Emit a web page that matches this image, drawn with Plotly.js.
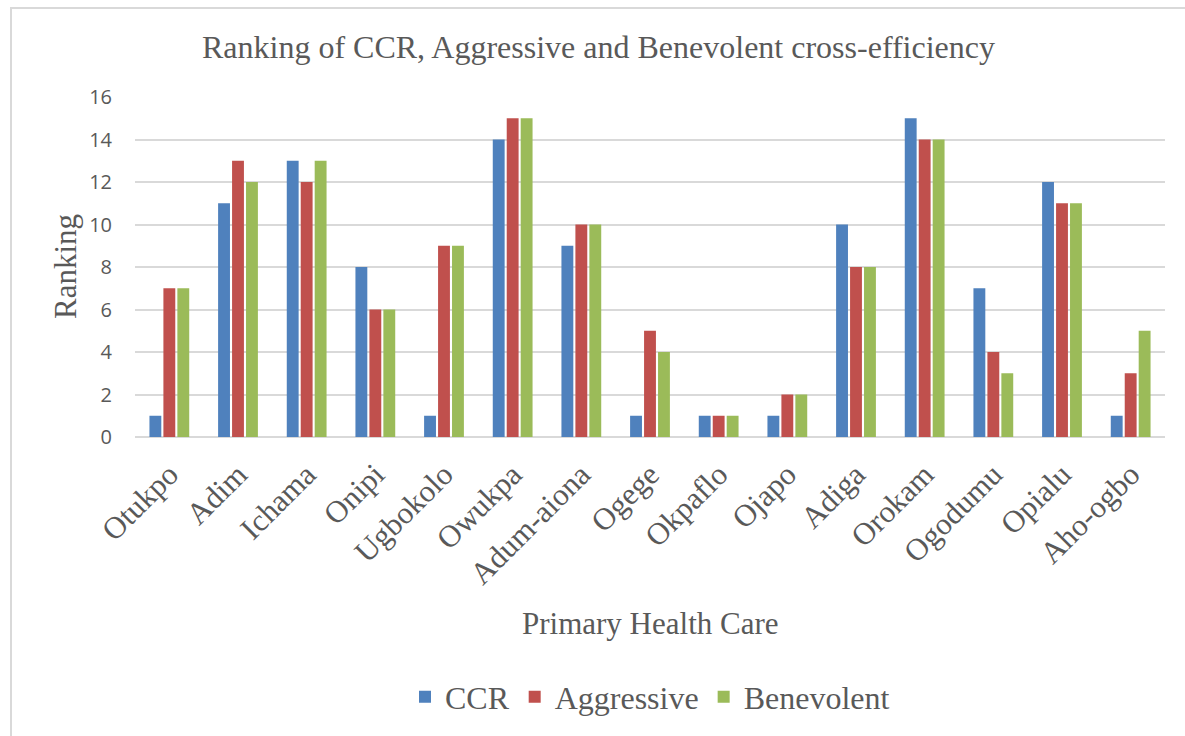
<!DOCTYPE html>
<html><head><meta charset="utf-8">
<script src="https://cdn.plot.ly/plotly-3.0.1.min.js"></script>
<style>
html,body{margin:0;padding:0;background:#fff;width:1185px;height:736px;overflow:hidden;}
#chart{position:absolute;left:10px;top:7px;width:1173px;height:729px;border-left:2px solid #d9d9d9;border-top:2px solid #d9d9d9;}
</style></head>
<body><div id="chart"></div>
<script>
const categories = ["Otukpo","Adim","Ichama","Onipi","Ugbokolo","Owukpa","Adum-aiona","Ogege","Okpaflo","Ojapo","Adiga","Orokam","Ogodumu","Opialu","Aho-ogbo"];
const ccr =        [1, 11, 13, 8, 1, 14, 9, 1, 1, 1, 10, 15, 7, 12, 1];
const aggressive = [7, 13, 12, 6, 9, 15, 10, 5, 1, 2, 8, 14, 4, 11, 3];
const benevolent = [7, 12, 13, 6, 9, 15, 10, 4, 1, 2, 8, 14, 3, 11, 5];
const yTicks = [0,2,4,6,8,10,12,14,16];

const serif = "Liberation Serif, Times New Roman, serif";
const gray = "#595959";
const traces = [
  {type:"bar", name:"CCR", x:categories, y:ccr, marker:{color:"#4F81BD"}},
  {type:"bar", name:"Aggressive", x:categories, y:aggressive, marker:{color:"#C0504D"}},
  {type:"bar", name:"Benevolent", x:categories, y:benevolent, marker:{color:"#9BBB59"}}
];
const layout = {
  width:1173, height:727,
  margin:{l:123, r:20, t:88, b:299},
  paper_bgcolor:"#fff", plot_bgcolor:"#fff",
  barmode:"group", bargap:0.39, bargroupgap:0.15,
  title:{text:"Ranking of CCR, Aggressive and Benevolent cross-efficiency", font:{family:serif, size:32, color:gray}, x:0.5, xanchor:"center", y:1-38/727, yanchor:"middle"},
  xaxis:{
    automargin:false,
    tickangle:-45, tickfont:{family:serif, size:31, color:gray},
    showgrid:false, showline:false, ticks:"outside", ticklen:6, tickcolor:"rgba(0,0,0,0)"
  },
  yaxis:{
    automargin:false,
    range:[0,16], tickvals:yTicks, ticktext:yTicks.map(String),
    tickfont:{family:"Open Sans, Carlito, sans-serif", size:20, color:gray},
    showgrid:true, gridcolor:"#d9d9d9", gridwidth:2,
    zeroline:true, zerolinecolor:"#d9d9d9", zerolinewidth:2,
    showline:false, ticks:"outside", ticklen:18, tickcolor:"rgba(0,0,0,0)"
  },
  annotations:[
    {text:"Primary Health Care", xref:"paper", yref:"paper", x:0.5, y:-186/340, xanchor:"center", yanchor:"middle", showarrow:false, font:{family:serif, size:31, color:gray}},
    {text:"Ranking", xref:"paper", yref:"paper", x:-70/1030, y:0.5, xanchor:"center", yanchor:"middle", textangle:-90, showarrow:false, font:{family:serif, size:31, color:gray}}
  ],
  showlegend:true,
  legend:{orientation:"h", x:0.5, xanchor:"center", y:-260/340, yanchor:"middle", font:{family:serif, size:32, color:gray}, itemwidth:30, tracegroupgap:0},
  font:{family:serif, color:gray}
};
Plotly.newPlot("chart", traces, layout, {displayModeBar:false, staticPlot:true});
</script></body></html>
